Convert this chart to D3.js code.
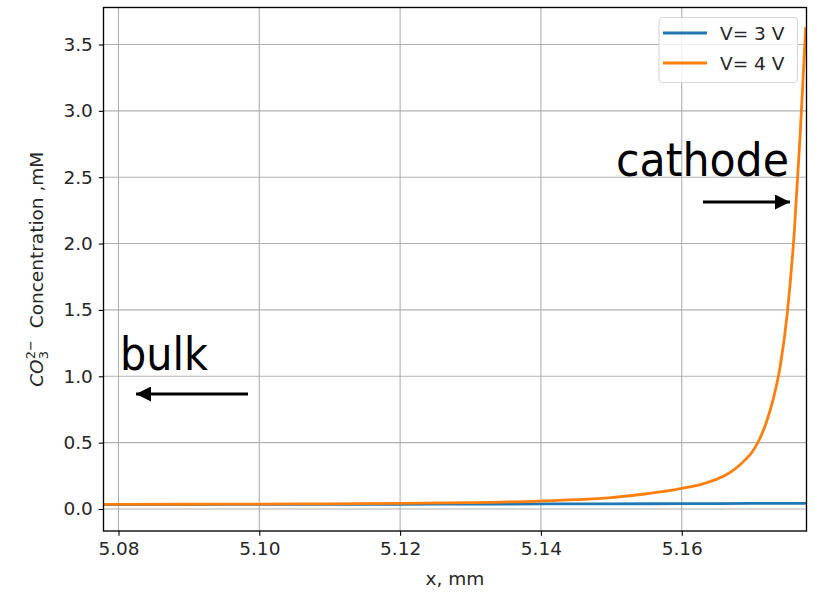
<!DOCTYPE html>
<html>
<head>
<meta charset="utf-8">
<script src="https://cdn.jsdelivr.net/npm/d3@7"></script>
<style>
  html, body { margin: 0; padding: 0; background: #fff; }
  svg { display: block; }
  text { font-family: "DejaVu Sans", sans-serif; }
</style>
</head>
<body>
<svg id="chart" width="814" height="593"></svg>
<script>
// Carbonate concentration profiles near the cathode, x in mm, concentration in mM
const xV3 = [5.0779, 5.09, 5.10, 5.11, 5.12, 5.13, 5.14, 5.15, 5.16, 5.17, 5.1776];
const yV3 = [0.034, 0.034, 0.035, 0.035, 0.036, 0.037, 0.038, 0.039, 0.040, 0.042, 0.043];

const xV4 = [5.0779, 5.09, 5.10, 5.11, 5.12, 5.13, 5.14, 5.145, 5.15, 5.155, 5.16,
             5.163, 5.165, 5.167, 5.168, 5.169, 5.170, 5.171, 5.172, 5.173, 5.174,
             5.175, 5.176, 5.1768, 5.1776];
const yV4 = [0.035, 0.036, 0.037, 0.039, 0.042, 0.048, 0.060, 0.070, 0.086, 0.115, 0.155,
             0.19, 0.225, 0.28, 0.32, 0.37, 0.43, 0.52, 0.65, 0.83, 1.08,
             1.48, 2.10, 2.80, 3.62];

const seriesNames = ["V= 3 V", "V= 4 V"];
const seriesColors = ["#1f77b4", "#ff7f0e"];

const xTicks = [5.08, 5.10, 5.12, 5.14, 5.16];
const yTicks = [0.0, 0.5, 1.0, 1.5, 2.0, 2.5, 3.0, 3.5];

const xDomain = [5.07787, 5.17772];
const yDomain = [-0.1657, 3.7786];

const svg = d3.select("#chart");
const plot = { left: 103.5, right: 806.5, top: 7.5, bottom: 531 };

const x = d3.scaleLinear().domain(xDomain).range([plot.left, plot.right]);
const y = d3.scaleLinear().domain(yDomain).range([plot.bottom, plot.top]);

const fontSize = 18.5;

// grid
const grid = svg.append("g").attr("stroke", "#b0b0b0").attr("stroke-width", 1.1);
grid.selectAll("line.gx").data(xTicks).join("line")
  .attr("x1", d => x(d)).attr("x2", d => x(d))
  .attr("y1", plot.top).attr("y2", plot.bottom);
grid.selectAll("line.gy").data(yTicks).join("line")
  .attr("y1", d => y(d)).attr("y2", d => y(d))
  .attr("x1", plot.left).attr("x2", plot.right);

// series
svg.append("clipPath").attr("id", "plotclip")
  .append("rect").attr("x", plot.left).attr("y", plot.top)
  .attr("width", plot.right - plot.left).attr("height", plot.bottom - plot.top);

const line = d3.line().x(d => x(d[0])).y(d => y(d[1])).curve(d3.curveMonotoneX);
const series = [d3.zip(xV3, yV3), d3.zip(xV4, yV4)];
svg.append("g").attr("clip-path", "url(#plotclip)")
  .selectAll("path").data(series).join("path")
  .attr("d", line)
  .attr("fill", "none")
  .attr("stroke", (d, i) => seriesColors[i])
  .attr("stroke-width", 2.8)
  .attr("stroke-linejoin", "round")
  .attr("stroke-linecap", "square");

// axes
const xAxis = svg.append("g")
  .attr("transform", `translate(0,${plot.bottom})`)
  .call(d3.axisBottom(x).tickValues(xTicks).tickFormat(d3.format(".2f")).tickSize(4.7).tickPadding(6));
const yAxis = svg.append("g")
  .attr("transform", `translate(${plot.left},0)`)
  .call(d3.axisLeft(y).tickValues(yTicks).tickFormat(d3.format(".1f")).tickSize(4.7).tickPadding(6));
[xAxis, yAxis].forEach(a => {
  a.select(".domain").remove();
  a.selectAll(".tick line").attr("stroke", "#000").attr("stroke-width", 1.1);
  a.selectAll(".tick text").attr("font-size", fontSize).attr("fill", "#262626")
    .attr("font-family", "DejaVu Sans");
});

// frame
svg.append("rect")
  .attr("x", plot.left).attr("y", plot.top)
  .attr("width", plot.right - plot.left).attr("height", plot.bottom - plot.top)
  .attr("fill", "none").attr("stroke", "#000").attr("stroke-width", 1.35);

// axis labels
svg.append("text")
  .attr("x", (plot.left + plot.right) / 2).attr("y", 585)
  .attr("text-anchor", "middle").attr("font-size", fontSize).attr("fill", "#262626")
  .text("x, mm");

const yl = svg.append("text")
  .attr("transform", `translate(43,${(plot.top + plot.bottom) / 2}) rotate(-90)`)
  .attr("text-anchor", "middle").attr("font-size", fontSize).attr("fill", "#262626");
yl.append("tspan").attr("font-style", "italic").text("CO");
yl.append("tspan").attr("font-size", fontSize * 0.7).attr("dy", 5).text("3");
yl.append("tspan").attr("font-size", fontSize * 0.7).attr("dx", -8).attr("dy", -13).text("2−");
yl.append("tspan").attr("dy", 8).text("\u00a0 Concentration ,mM");

// legend
const lg = svg.append("g");
lg.append("rect")
  .attr("x", 659).attr("y", 17.5).attr("width", 138.5).attr("height", 65)
  .attr("rx", 4).attr("fill", "#fff").attr("fill-opacity", 0.8)
  .attr("stroke", "#d6d6d6").attr("stroke-width", 1.1);
seriesNames.forEach((name, i) => {
  const cy = 33 + i * 30;
  lg.append("line").attr("x1", 663).attr("x2", 707).attr("y1", cy).attr("y2", cy)
    .attr("stroke", seriesColors[i]).attr("stroke-width", 2.8);
  lg.append("text").attr("x", 720).attr("y", cy + 6.5)
    .attr("font-size", fontSize).attr("fill", "#262626").text(name);
});

// annotations
const ann = svg.append("g").attr("font-family", "Lato, 'Open Sans', sans-serif");
ann.append("text").attr("x", 120).attr("y", 370).attr("font-size", 47)
  .attr("textLength", 88).attr("lengthAdjust", "spacingAndGlyphs")
  .attr("fill", "#000").text("bulk");
ann.append("text").attr("x", 616).attr("y", 176)
  .attr("font-size", 47).attr("textLength", 173).attr("lengthAdjust", "spacingAndGlyphs")
  .attr("fill", "#000").text("cathode");

const defs = svg.append("defs");
defs.append("marker").attr("id", "arrowhead")
  .attr("viewBox", "0 0 10 10").attr("refX", 10).attr("refY", 5)
  .attr("markerUnits", "userSpaceOnUse").attr("markerWidth", 16).attr("markerHeight", 15)
  .attr("orient", "auto")
  .append("path").attr("d", "M0,0 L10,5 L0,10 z").attr("fill", "#000");

ann.append("line").attr("x1", 248).attr("y1", 394).attr("x2", 136).attr("y2", 394)
  .attr("stroke", "#000").attr("stroke-width", 3).attr("marker-end", "url(#arrowhead)");
ann.append("line").attr("x1", 703).attr("y1", 202).attr("x2", 790).attr("y2", 202)
  .attr("stroke", "#000").attr("stroke-width", 3).attr("marker-end", "url(#arrowhead)");
</script>
</body>
</html>
